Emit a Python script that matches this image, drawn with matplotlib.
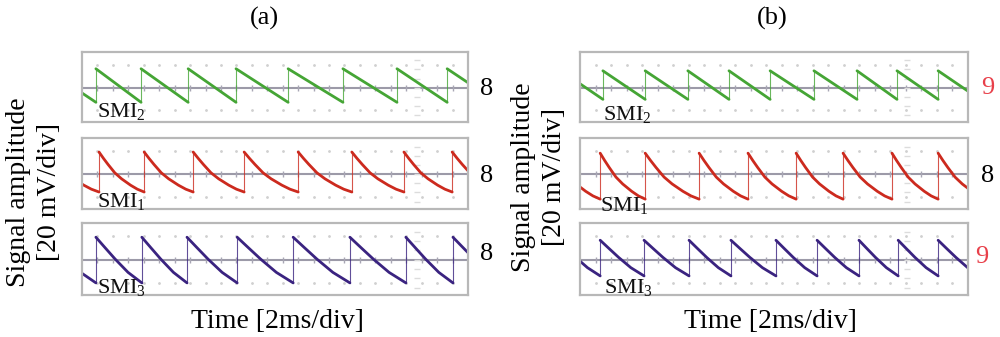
import numpy as np
import matplotlib.pyplot as plt

plt.rcParams['font.family'] = ['Liberation Serif', 'DejaVu Serif']
plt.rcParams['mathtext.fontset'] = 'custom'
plt.rcParams['mathtext.rm'] = 'Liberation Serif'
plt.rcParams['mathtext.it'] = 'Liberation Serif:italic'

# tiempo en ms (2 ms/div), amplitud en div (20 mV/div)
T_END = 10.0

# instantes de salto de cada traza (ms)
jumps_a2 = [0.36, 1.53, 2.75, 3.99, 5.34, 6.76, 8.16, 9.46]
jumps_a1 = [0.44, 1.61, 2.88, 4.20, 5.60, 6.99, 8.34, 9.59]
jumps_a3 = [0.36, 1.55, 2.72, 4.02, 5.47, 6.94, 8.39, 9.61]
jumps_b2 = [0.59, 1.68, 2.78, 3.84, 4.90, 6.03, 7.14, 8.17, 9.23]
jumps_b1 = [0.52, 1.68, 3.07, 4.33, 5.57, 6.78, 8.04, 9.23]
jumps_b3 = [0.52, 1.65, 2.81, 3.89, 5.05, 6.11, 7.19, 8.20, 9.23]

# pico / valle (div)
peak_a = [0.83, 0.96, 0.96]
trough_a = [-0.65, -0.78, -1.00]
peak_b = [0.74, 0.91, 0.83]
trough_b = [-0.52, -1.09, -0.70]

# forma del diente (fraccion del periodo -> nivel normalizado)
lin_f, lin_s = [0.0, 1.0], [1.0, 0.0]
red_f = [0.0, 0.1, 0.2, 0.35, 0.5, 0.7, 0.85, 1.0]
red_s = [1.0, 0.84, 0.69, 0.48, 0.33, 0.17, 0.07, 0.0]
pur_f = [0.0, 0.2, 0.42, 0.7, 1.0]
pur_s = [1.0, 0.77, 0.52, 0.23, 0.0]

labels = ['SMI$_{\\rm 2}$', 'SMI$_{\\rm 1}$', 'SMI$_{\\rm 3}$']
counts_a = ['8', '8', '8']
counts_b = ['9', '8', '9']
count_colors_b = ['#e8404a', 'black', '#e8404a']

GREEN, RED, PURPLE = '#45a535', '#cc2a1e', '#3a2380'


def draw_trace(ax, jumps, peak, trough, pf, ps, color):
    jumps = np.asarray(jumps)
    period = np.diff(jumps).mean()
    starts = np.r_[jumps[0] - period, jumps]
    ends = np.r_[jumps, jumps[-1] + period]
    pf, ps = np.asarray(pf), np.asarray(ps)
    for a, b in zip(starts, ends):
        ax.plot(a + pf * (b - a), trough + ps * (peak - trough),
                color=color, lw=2.0, solid_capstyle='round')
    for j in jumps:
        ax.plot([j, j], [trough, peak], color=color, lw=0.8, alpha=0.8)


def scope_box(ax, center_x):
    ax.set_xlim(0, T_END)
    ax.set_ylim(-1.52, 1.57)
    ax.set_xticks([])
    ax.set_yticks([])
    for s in ax.spines.values():
        s.set_color('#b8b8b8')
        s.set_linewidth(1.6)
    xs = np.arange(0.4, T_END, 0.4)
    for yy in (-1, 1):
        ax.plot(xs, np.full_like(xs, yy), ls='none', marker='.', ms=2.0,
                color='#d0d0d0')
    ax.axhline(0, color='#9c9aa8', lw=1.5)
    ax.plot(xs, np.zeros_like(xs), ls='none', marker='|', ms=5,
            color='#a8a6b4', mew=1)
    ys = np.arange(-1.2, 1.3, 0.4)
    ax.plot(np.full_like(ys, center_x), ys, ls='none', marker='_', ms=5,
            color='#dcdcdc')


fig = plt.figure(figsize=(10, 3.37), dpi=100)

rows_px = [(52, 122), (138, 209), (223, 295)]
panels = [
    (82, 468, [jumps_a2, jumps_a1, jumps_a3], peak_a, trough_a, 8.68,
     [(0.039, 0.07), (0.039, 0.03), (0.039, 0.03)], counts_a,
     ['black'] * 3, [(487, 89), (487, 176), (487, 254)]),
    (580, 968, [jumps_b2, jumps_b1, jumps_b3], peak_b, trough_b, 8.43,
     [(0.059, 0.03), (0.052, -0.03), (0.062, 0.03)], counts_b,
     count_colors_b, [(988, 88), (988, 176), (982, 257)]),
]
shapes = [(lin_f, lin_s, GREEN), (red_f, red_s, RED), (pur_f, pur_s, PURPLE)]

for x0, x1, jl, pk, tr, cx, lab_pos, cnt, cnt_col, cnt_pos in panels:
    for i, (y0, y1) in enumerate(rows_px):
        ax = fig.add_axes([x0 / 1000, 1 - y1 / 337, (x1 - x0) / 1000,
                           (y1 - y0) / 337])
        scope_box(ax, cx)
        pf, ps, col = shapes[i]
        draw_trace(ax, jl[i], pk[i], tr[i], pf, ps, col)
        ax.text(lab_pos[i][0], lab_pos[i][1], labels[i], transform=ax.transAxes,
                fontsize=16, va='baseline', ha='left', color='#111111')
        fig.text(cnt_pos[i][0] / 1000, 1 - cnt_pos[i][1] / 337, cnt[i],
                 fontsize=19, color=cnt_col[i], ha='center', va='center')

fig.text(0.264, 1 - 18 / 337, '(a)', fontsize=19, ha='center', va='center')
fig.text(0.772, 1 - 18 / 337, '(b)', fontsize=19, ha='center', va='center')
fig.text(0.277, 1 - 321 / 337, 'Time [2ms/div]', fontsize=20, ha='center',
         va='center')
fig.text(0.770, 1 - 322 / 337, 'Time [2ms/div]', fontsize=20, ha='center',
         va='center')
fig.text(0.034, 1 - 192 / 337, 'Signal amplitude\n[20 mV/div]', fontsize=20,
         rotation=90, ha='center', va='center', multialignment='center',
         linespacing=1.3)
fig.text(0.539, 1 - 177 / 337, 'Signal amplitude\n[20 mV/div]', fontsize=20,
         rotation=90, ha='center', va='center', multialignment='center',
         linespacing=1.3)

fig.savefig('out.png', dpi=100)
